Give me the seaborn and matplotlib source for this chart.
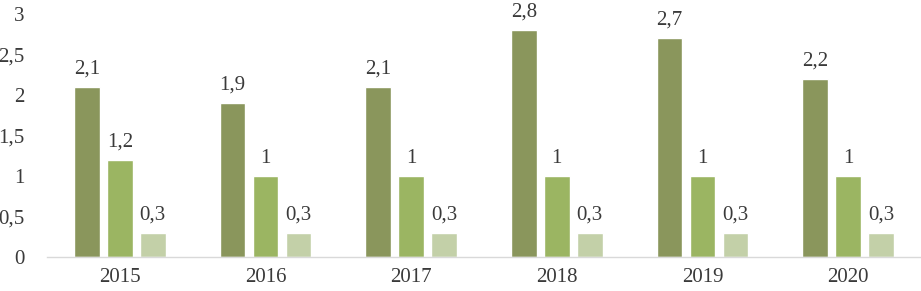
import matplotlib
matplotlib.use('Agg')
import matplotlib.pyplot as plt
import pandas as pd
import seaborn as sns

years = ['2015', '2016', '2017', '2018', '2019', '2020']
series_a = [2.1, 1.9, 2.1, 2.8, 2.7, 2.2]
series_b = [1.2, 1.0, 1.0, 1.0, 1.0, 1.0]
series_c = [0.3, 0.3, 0.3, 0.3, 0.3, 0.3]
series_names = ['A', 'B', 'C']
colors = ['#8a965c', '#9bb562', '#c3d0a8']

df = pd.DataFrame({
    'Year': years * 3,
    'Value': series_a + series_b + series_c,
    'Series': [series_names[0]] * 6 + [series_names[1]] * 6 + [series_names[2]] * 6,
})

sns.set_style('white')
plt.rcParams['font.family'] = ['Liberation Serif', 'DejaVu Serif']
text_color = '#3a3a3a'

fig = plt.figure(figsize=(9.21, 2.91), dpi=100)
ax = fig.add_axes([0.051, 0.117, 0.949, 0.835])
sns.barplot(data=df, x='Year', y='Value', hue='Series', palette=colors,
            width=0.68, gap=0.22, legend=False, ax=ax, saturation=1)

def fmt(v):
    s = ('%.1f' % v).rstrip('0').rstrip('.')
    return s.replace('.', ',')

for cont in ax.containers:
    ax.bar_label(cont, labels=[fmt(b.get_height()) for b in cont], padding=6,
                 fontsize=15, color=text_color)

ax.set_ylim(0, 3)
ax.set_yticks([0, 0.5, 1, 1.5, 2, 2.5, 3])
ax.set_yticklabels(['0', '0,5', '1', '1,5', '2', '2,5', '3'])
ax.set_xlim(-0.5, 5.5)
ax.tick_params(axis='both', length=0, labelsize=15, colors=text_color)
ax.tick_params(axis='y', pad=16)
ax.tick_params(axis='x', pad=8)
ax.set_xlabel('')
ax.set_ylabel('')
for s in ['top', 'right', 'left']:
    ax.spines[s].set_visible(False)
ax.spines['bottom'].set_color('#d9d9d9')
ax.spines['bottom'].set_linewidth(1)

fig.savefig('out.png', dpi=100)
